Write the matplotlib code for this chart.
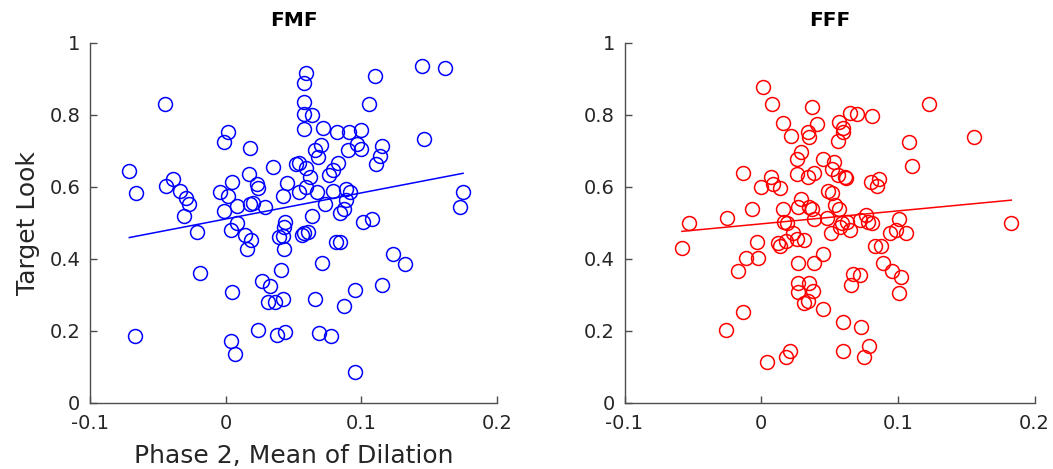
import numpy as np
import matplotlib
matplotlib.use("Agg")
import matplotlib.pyplot as plt

# ---- FMF (left panel) ----
fmf_x = [-0.045, -0.071, -0.066, -0.044, -0.039, -0.034, -0.029, -0.027, -0.031, -0.004,
         0.002, 0.005, -0.001, 0.008, 0.002, -0.001, 0.018, 0.017, 0.023, 0.024,
         0.018, 0.020, 0.029, 0.035, 0.042, 0.045, 0.052, 0.044, 0.043, 0.059,
         0.058, 0.058, 0.058, 0.064, 0.058, 0.072, 0.082, 0.091, 0.100, 0.110,
         0.106, 0.145, 0.162, 0.146, 0.070, 0.066, 0.068, 0.090, 0.097, 0.100,
         0.115, 0.114, 0.111, 0.054, 0.059, 0.083, 0.079, 0.076, 0.062, 0.054,
         0.059, 0.067, 0.079, 0.089, 0.092, 0.073, 0.089, 0.087, 0.084, 0.064,
         0.101, 0.108, 0.175, 0.173, -0.021, 0.004, 0.008, 0.014, 0.019, 0.016,
         0.039, 0.042, 0.043, 0.056, 0.058, 0.061, 0.081, 0.084, -0.019, 0.041,
         0.071, 0.027, 0.033, 0.005, 0.031, 0.036, 0.042, 0.066, 0.087, 0.024,
         0.038, 0.044, 0.069, 0.078, 0.004, 0.007, -0.067, 0.095, 0.115, 0.123,
         0.132, 0.095]
fmf_y = [0.831, 0.644, 0.581, 0.602, 0.620, 0.588, 0.569, 0.551, 0.519, 0.586,
         0.574, 0.613, 0.532, 0.546, 0.751, 0.723, 0.706, 0.635, 0.607, 0.595,
         0.553, 0.555, 0.544, 0.654, 0.574, 0.609, 0.664, 0.502, 0.488, 0.917,
         0.888, 0.836, 0.801, 0.799, 0.759, 0.763, 0.751, 0.751, 0.757, 0.907,
         0.831, 0.934, 0.929, 0.733, 0.715, 0.701, 0.683, 0.703, 0.718, 0.704,
         0.712, 0.685, 0.664, 0.666, 0.653, 0.666, 0.646, 0.632, 0.627, 0.586,
         0.600, 0.584, 0.588, 0.593, 0.586, 0.553, 0.563, 0.539, 0.528, 0.519,
         0.502, 0.509, 0.586, 0.542, 0.473, 0.479, 0.500, 0.465, 0.451, 0.428,
         0.461, 0.463, 0.428, 0.465, 0.470, 0.474, 0.447, 0.447, 0.359, 0.368,
         0.389, 0.338, 0.324, 0.308, 0.278, 0.278, 0.287, 0.287, 0.268, 0.201,
         0.188, 0.195, 0.194, 0.186, 0.172, 0.135, 0.185, 0.314, 0.326, 0.413,
         0.385, 0.086]
fmf_fit = [0.726, 0.510]   # slope, intercept of the drawn fit line

# ---- FFF (right panel) ----
fff_x = [0.001, 0.008, 0.037, 0.016, 0.041, 0.057, 0.060, 0.060, 0.056, 0.022,
         0.034, 0.035, 0.029, 0.026, 0.045, 0.065, 0.070, 0.081, 0.123, 0.108,
         0.156, 0.110, 0.053, 0.052, 0.056, 0.061, 0.062, 0.080, 0.086, 0.085,
         -0.013, 0.007, 0.000, 0.009, 0.014, 0.026, 0.034, 0.039, 0.049, 0.052,
         0.029, -0.007, 0.016, 0.027, 0.035, 0.037, 0.054, 0.057, 0.048, -0.025,
         -0.053, 0.017, 0.019, 0.039, 0.059, 0.063, 0.065, 0.058, 0.072, 0.077,
         0.078, 0.081, 0.051, 0.023, 0.026, 0.031, 0.012, 0.014, 0.018, -0.003,
         -0.011, -0.002, -0.017, -0.058, 0.027, 0.039, 0.045, 0.027, 0.035, 0.038,
         0.027, 0.031, 0.034, 0.045, -0.013, -0.026, 0.021, 0.018, 0.004, 0.060,
         0.073, 0.060, 0.079, 0.075, 0.094, 0.099, 0.106, 0.101, 0.083, 0.088,
         0.089, 0.096, 0.102, 0.101, 0.067, 0.072, 0.066, 0.183]
fff_y = [0.876, 0.831, 0.822, 0.777, 0.773, 0.779, 0.762, 0.752, 0.728, 0.741,
         0.752, 0.738, 0.695, 0.676, 0.676, 0.805, 0.801, 0.796, 0.831, 0.724,
         0.737, 0.657, 0.669, 0.650, 0.632, 0.627, 0.625, 0.613, 0.620, 0.601,
         0.639, 0.626, 0.600, 0.607, 0.595, 0.635, 0.627, 0.637, 0.588, 0.583,
         0.566, 0.539, 0.539, 0.544, 0.544, 0.537, 0.549, 0.537, 0.514, 0.514,
         0.500, 0.502, 0.498, 0.510, 0.498, 0.502, 0.479, 0.488, 0.507, 0.521,
         0.502, 0.498, 0.472, 0.472, 0.455, 0.451, 0.444, 0.435, 0.449, 0.447,
         0.403, 0.403, 0.366, 0.430, 0.389, 0.389, 0.413, 0.333, 0.331, 0.311,
         0.306, 0.276, 0.283, 0.260, 0.251, 0.201, 0.144, 0.127, 0.112, 0.225,
         0.211, 0.144, 0.158, 0.126, 0.470, 0.479, 0.470, 0.510, 0.435, 0.435,
         0.389, 0.366, 0.349, 0.305, 0.356, 0.354, 0.326, 0.500]
fff_fit = [0.360, 0.4965]

titles = ["FMF", "FFF"]
x_ticks = [-0.1, 0, 0.1, 0.2]
x_ticklabels = ["-0.1", "0", "0.1", "0.2"]
y_ticks = [0, 0.2, 0.4, 0.6, 0.8, 1]
y_ticklabels = ["0", "0.2", "0.4", "0.6", "0.8", "1"]

plt.rcParams['font.family'] = ['DejaVu Sans']
fig = plt.figure(figsize=(10.53, 4.69), dpi=100)
W, H = 1053, 469
axL = fig.add_axes([90 / W, 1 - 402.5 / H, 407 / W, 359.8 / H])
axR = fig.add_axes([624.5 / W, 1 - 402.5 / H, 410 / W, 359.8 / H])

txtc = '#262626'
for ax, xs, ys, fit, col, title in [(axL, fmf_x, fmf_y, fmf_fit, 'blue', titles[0]),
                                     (axR, fff_x, fff_y, fff_fit, 'red', titles[1])]:
    ax.plot(xs, ys, 'o', mfc='none', mec=col, ms=10, mew=1.1, ls='none')
    xl = np.array([min(xs), max(xs)])
    ax.plot(xl, fit[0] * xl + fit[1], color=col, lw=1.1)
    ax.set_xlim(-0.1, 0.2)
    ax.set_ylim(0, 1)
    ax.set_xticks(x_ticks)
    ax.set_xticklabels(x_ticklabels)
    ax.set_yticks(y_ticks)
    ax.set_yticklabels(y_ticklabels)
    ax.spines['top'].set_visible(False)
    ax.spines['right'].set_visible(False)
    for s in ['left', 'bottom']:
        ax.spines[s].set_color('#4d4d4d')
        ax.spines[s].set_linewidth(1.0)
    ax.tick_params(direction='in', length=5, width=1.0, color='#4d4d4d',
                   labelsize=14, labelcolor=txtc)
    ax.tick_params(axis='x', pad=8)
    ax.tick_params(axis='y', pad=7)
    ax.set_title(title, fontsize=14.5, fontweight='bold', color='black', pad=12)

axL.set_ylabel("Target Look", fontsize=18, color=txtc, labelpad=7)
axL.set_xlabel("Phase 2, Mean of Dilation", fontsize=18, color=txtc, labelpad=8)

fig.savefig("out.png", dpi=100)
